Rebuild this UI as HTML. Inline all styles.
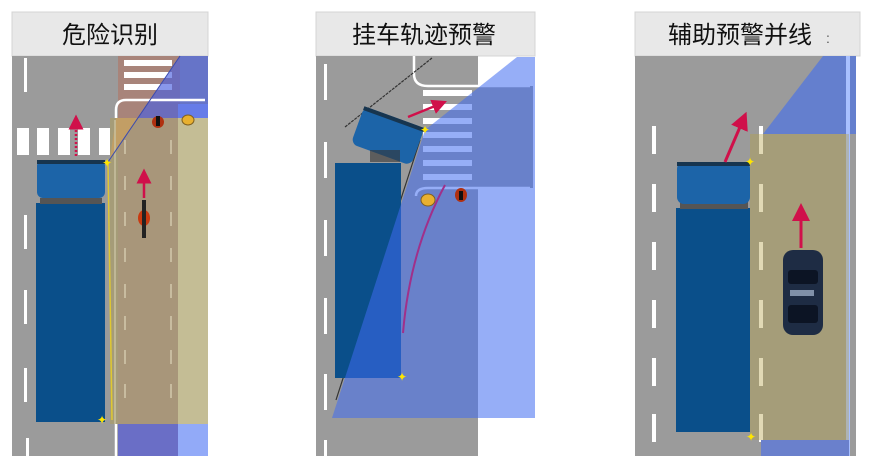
<!DOCTYPE html>
<html><head><meta charset="utf-8"><style>
html,body{margin:0;padding:0;background:#fff;width:875px;height:462px;overflow:hidden}
svg{display:block}
text{font-family:"Liberation Sans","Noto Sans CJK SC",sans-serif}
</style></head><body>
<svg width="875" height="462" viewBox="0 0 875 462" xmlns="http://www.w3.org/2000/svg">
<defs>
<marker id="ah" markerWidth="6" markerHeight="6" refX="3" refY="3" orient="auto"><path d="M0,0 L6,3 L0,6 z" fill="#d0104a"/></marker>
</defs>
<!-- ========== PANEL 1 ========== -->
<rect x="12" y="12" width="196" height="44" fill="#e8e8e8" stroke="#d4d4d4"/>
<text x="110" y="43" font-size="24" text-anchor="middle" fill="#111">危险识别</text>
<rect x="12" y="56" width="196" height="400" fill="#9b9b9b"/>
<!-- bike lane -->
<rect x="118" y="56" width="62" height="400" fill="#a8847a"/>
<rect x="178" y="104" width="30" height="352" fill="#9cb2f5"/>
<g fill="#fff"><rect x="124" y="60" width="48" height="6"/><rect x="124" y="72" width="48" height="6"/><rect x="124" y="84" width="48" height="6"/></g>
<!-- blue wedge -->
<polygon points="180,56 208,56 208,118 138,118" fill="#4a60e0" opacity="0.65"/>
<path d="M116,456 L116,110 Q116,100 126,100 L205,100" fill="none" stroke="#fff" stroke-width="2.5"/>
<g fill="#fff"><rect x="24" y="58" width="3" height="34"/><rect x="24" y="215" width="3" height="34"/><rect x="24" y="290" width="3" height="34"/><rect x="24" y="368" width="3" height="34"/><rect x="26" y="438" width="3" height="18"/></g>
<g fill="#fff"><rect x="17" y="128" width="12" height="27"/><rect x="37" y="128" width="12" height="27"/><rect x="58" y="128" width="12" height="27"/><rect x="78" y="128" width="12" height="27"/><rect x="99" y="128" width="12" height="27"/></g>
<!-- yellow zone (solid) -->
<rect x="110" y="118" width="8" height="306" fill="#a59c78"/>
<rect x="118" y="118" width="60" height="306" fill="#a8967a"/>
<rect x="178" y="118" width="30" height="306" fill="#c4bd95"/>
<polygon points="116,118 138,118 110,158" fill="#c8a060" opacity="0.8"/>
<line x1="115" y1="120" x2="115" y2="424" stroke="#c8c0a0" stroke-width="1.5"/>
<g fill="#c8bca0"><rect x="124" y="140" width="2" height="14"/><rect x="124" y="176" width="2" height="14"/><rect x="124" y="212" width="2" height="14"/><rect x="124" y="248" width="2" height="14"/><rect x="124" y="284" width="2" height="14"/><rect x="124" y="316" width="2" height="14"/><rect x="124" y="350" width="2" height="14"/><rect x="124" y="384" width="2" height="14"/>
<rect x="170" y="140" width="2" height="14"/><rect x="170" y="176" width="2" height="14"/><rect x="170" y="212" width="2" height="14"/><rect x="170" y="248" width="2" height="14"/><rect x="170" y="284" width="2" height="14"/><rect x="170" y="316" width="2" height="14"/><rect x="170" y="350" width="2" height="14"/><rect x="170" y="384" width="2" height="14"/></g>
<!-- truck -->
<rect x="36" y="203" width="69" height="219" fill="#0a4f8a"/>
<rect x="40" y="198" width="62" height="6" fill="#555"/>
<rect x="37" y="160" width="68" height="38" rx="6" fill="#1c64a8"/>
<rect x="37" y="160" width="68" height="4" fill="#17354f"/>
<line x1="180" y1="56" x2="108" y2="162" stroke="#3a4ab0" stroke-width="1"/>
<rect x="118" y="424" width="60" height="32" fill="#6a6ec6"/>
<rect x="178" y="424" width="30" height="32" fill="#92aaf8"/>
<line x1="108" y1="162" x2="112" y2="420" stroke="#e0c830" stroke-width="1.5"/>
<text x="102" y="167" font-size="12" fill="#ffe600">✦</text>
<text x="97" y="424" font-size="12" fill="#ffe600">✦</text>
<ellipse cx="158" cy="122" rx="6" ry="6" fill="#b03010"/><rect x="156" y="116" width="4" height="10" fill="#111"/>
<ellipse cx="188" cy="120" rx="6" ry="5" fill="#e8b030" stroke="#806020"/>
<ellipse cx="144" cy="218" rx="6" ry="8" fill="#c83a10"/><rect x="142" y="200" width="4" height="38" fill="#222"/>
<line x1="144" y1="198" x2="144" y2="176" stroke="#d0104a" stroke-width="2.5" marker-end="url(#ah)"/>
<line x1="76" y1="156" x2="76" y2="122" stroke="#d0104a" stroke-width="2.5" stroke-dasharray="2 2" marker-end="url(#ah)"/>
<!-- ========== PANEL 2 ========== -->
<rect x="316" y="12" width="219" height="44" fill="#e8e8e8" stroke="#d4d4d4"/>
<text x="424" y="43" font-size="24" text-anchor="middle" fill="#111">挂车轨迹预警</text>
<rect x="316" y="56" width="162" height="400" fill="#9b9b9b"/>
<rect x="478" y="86" width="55" height="102" fill="#9b9b9b"/>
<path d="M414,56 L414,74 Q414,86 428,86 L530,86" fill="none" stroke="#fff" stroke-width="2.5"/>
<path d="M416,196 Q416,188 428,188 L530,188" fill="none" stroke="#fff" stroke-width="2.5"/>
<g fill="#fff"><rect x="423" y="90" width="49" height="6"/><rect x="423" y="104" width="49" height="6"/><rect x="423" y="118" width="49" height="6"/><rect x="423" y="132" width="49" height="6"/><rect x="423" y="146" width="49" height="6"/><rect x="423" y="160" width="49" height="6"/><rect x="423" y="174" width="49" height="6"/></g>
<g fill="#fff"><rect x="324" y="64" width="3" height="36"/><rect x="324" y="142" width="3" height="36"/><rect x="324" y="220" width="3" height="36"/><rect x="324" y="298" width="3" height="36"/><rect x="324" y="374" width="3" height="36"/><rect x="324" y="440" width="3" height="16"/></g>
<line x1="345" y1="127" x2="432" y2="58" stroke="#333" stroke-width="1.2" stroke-dasharray="3 1"/>
<line x1="420" y1="140" x2="336" y2="400" stroke="#333" stroke-width="1.2"/>
<rect x="335" y="163" width="66" height="215" fill="#0a4f8a"/>
<g transform="rotate(20 388 135)"><rect x="356" y="116" width="64" height="40" rx="7" fill="#1c64a8"/><rect x="356" y="116" width="64" height="4" fill="#17354f"/></g>
<rect x="370" y="150" width="30" height="12" fill="#333" opacity="0.6"/>
<polygon points="425,130 517,57 535,57 535,418 332,418" fill="#3f6cf0" opacity="0.55"/>
<path d="M445,185 Q410,250 403,333" fill="none" stroke="#a0308a" stroke-width="2"/>
<ellipse cx="428" cy="200" rx="7" ry="6" fill="#e8b030" stroke="#806020"/>
<ellipse cx="461" cy="195" rx="6" ry="7" fill="#b03010"/><rect x="459" y="191" width="4" height="9" fill="#111"/>
<line x1="408" y1="117" x2="440" y2="104" stroke="#d0104a" stroke-width="2.5" marker-end="url(#ah)"/>
<text x="420" y="134" font-size="12" fill="#ffe600">✦</text>
<text x="397" y="381" font-size="12" fill="#ffe600">✦</text>
<!-- ========== PANEL 3 ========== -->
<rect x="635" y="12" width="225" height="44" fill="#e8e8e8" stroke="#d4d4d4"/>
<text x="740" y="43" font-size="24" text-anchor="middle" fill="#111">辅助预警并线</text>
<text x="826" y="43" font-size="14" fill="#555">:</text>
<rect x="635" y="56" width="221" height="400" fill="#9b9b9b"/>
<polygon points="823,56 856,56 856,134 763,134" fill="#3f6cf0" opacity="0.6"/>
<rect x="846" y="56" width="4" height="400" fill="#a8c0ff"/>
<g fill="#fff"><rect x="652" y="126" width="4" height="28"/><rect x="652" y="184" width="4" height="28"/><rect x="652" y="242" width="4" height="28"/><rect x="652" y="300" width="4" height="28"/><rect x="652" y="358" width="4" height="28"/><rect x="652" y="414" width="4" height="28"/>
<rect x="759" y="126" width="4" height="28"/><rect x="759" y="184" width="4" height="28"/><rect x="759" y="242" width="4" height="28"/><rect x="759" y="300" width="4" height="28"/><rect x="759" y="358" width="4" height="28"/><rect x="759" y="414" width="4" height="28"/></g>
<rect x="676" y="208" width="74" height="224" fill="#0a4f8a"/>
<rect x="680" y="202" width="68" height="7" fill="#555"/>
<rect x="677" y="162" width="73" height="42" rx="7" fill="#1c64a8"/>
<rect x="677" y="162" width="73" height="4" fill="#17354f"/>
<rect x="750" y="134" width="99" height="306" fill="#b4a046" opacity="0.4"/>
<rect x="761" y="440" width="88" height="16" fill="#6a80cc"/>
<rect x="783" y="250" width="40" height="85" rx="10" fill="#1e2c44"/>
<rect x="788" y="270" width="30" height="14" rx="3" fill="#0c1424"/>
<rect x="790" y="290" width="24" height="6" fill="#8090a8"/>
<rect x="788" y="305" width="30" height="18" rx="3" fill="#0c1424"/>
<line x1="801" y1="248" x2="801" y2="212" stroke="#d0104a" stroke-width="3" marker-end="url(#ah)"/>
<line x1="725" y1="162" x2="743" y2="120" stroke="#d0104a" stroke-width="3" marker-end="url(#ah)"/>
<text x="745" y="166" font-size="12" fill="#ffe600">✦</text>
<text x="746" y="441" font-size="12" fill="#ffe600">✦</text>
</svg>
</body></html>
